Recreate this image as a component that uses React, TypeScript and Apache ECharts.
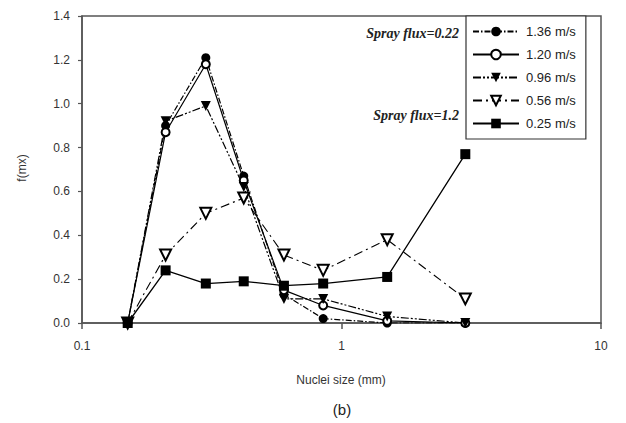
import React, { useEffect, useRef } from "react";
import * as echarts from "echarts";

const sizes = [0.15, 0.21, 0.3, 0.42, 0.6, 0.85, 1.5, 3.0];
const v136 = [0, 0.9, 1.21, 0.67, 0.13, 0.02, 0.0, 0.0];
const v120 = [0, 0.87, 1.18, 0.65, 0.15, 0.08, 0.01, 0.0];
const v096 = [0, 0.92, 0.99, 0.62, 0.11, 0.11, 0.03, 0.0];
const v056 = [0, 0.31, 0.5, 0.57, 0.31, 0.24, 0.38, 0.11];
const v025 = [0, 0.24, 0.18, 0.19, 0.17, 0.18, 0.21, 0.77];
const seriesNames = ["1.36 m/s", "1.20 m/s", "0.96 m/s", "0.56 m/s", "0.25 m/s"];
const yTicks = [0, 0.2, 0.4, 0.6, 0.8, 1.0, 1.2, 1.4];
const xTicks = [0.1, 1, 10];

export default function App() {
  const ref = useRef<HTMLDivElement>(null);
  useEffect(() => {
    if (!ref.current) return;
    const chart = echarts.init(ref.current, null, { renderer: "svg" });
    const pts = (vals: number[]) => sizes.map((s, i) => [s, vals[i]]);
    const common = {
      type: "line",
      showAllSymbol: true,
      z: 3,
    };
    const series = [
      {
        ...common,
        name: seriesNames[0],
        data: pts(v136),
        symbol: "circle",
        symbolSize: 9,
        itemStyle: { color: "#000" },
        lineStyle: { color: "#000", width: 1.2, type: [6, 2, 1.5, 2] },
      },
      {
        ...common,
        name: seriesNames[1],
        data: pts(v120),
        symbol: "emptyCircle",
        symbolSize: 8,
        itemStyle: { color: "#000", borderWidth: 1.2 },
        lineStyle: { color: "#000", width: 1.2 },
      },
      {
        ...common,
        name: seriesNames[2],
        data: pts(v096),
        symbol: "triangle",
        symbolRotate: 180,
        symbolSize: 10,
        itemStyle: { color: "#000" },
        lineStyle: { color: "#000", width: 1.2, type: [8, 2, 2, 2, 2, 2] },
      },
      {
        ...common,
        name: seriesNames[3],
        data: pts(v056),
        symbol: "emptyTriangle",
        symbolRotate: 180,
        symbolSize: 11,
        itemStyle: { color: "#000", borderWidth: 1.2 },
        lineStyle: { color: "#000", width: 1.1, type: [9, 4, 2, 4] },
      },
      {
        ...common,
        name: seriesNames[4],
        data: pts(v025),
        symbol: "rect",
        symbolSize: 10,
        itemStyle: { color: "#000" },
        lineStyle: { color: "#000", width: 1.3 },
      },
    ];
    const axisColor = "#555";
    chart.setOption({
      animation: false,
      backgroundColor: "#fff",
      grid: { left: 82, right: 25, top: 16, bottom: 100, containLabel: false },
      xAxis: {
        type: "log",
        logBase: 10,
        min: xTicks[0],
        max: xTicks[xTicks.length - 1],
        axisLine: { show: true, onZero: false, lineStyle: { color: axisColor, width: 1.5 } },
        axisTick: { show: true, inside: false, length: 6, lineStyle: { color: axisColor, width: 1.5 } },
        minorTick: { show: false },
        splitLine: { show: false },
        axisLabel: {
          margin: 17,
          color: "#333",
          fontFamily: "Liberation Sans, Arial, sans-serif",
          fontSize: 12,
          formatter: (v: number) => String(+v.toPrecision(3)),
        },
      },
      yAxis: {
        type: "value",
        min: 0,
        max: 1.4,
        interval: 0.2,
        axisLine: { show: true, lineStyle: { color: axisColor, width: 1.5 } },
        axisTick: { show: true, inside: false, length: 4, lineStyle: { color: axisColor, width: 1.2 } },
        splitLine: { show: false },
        axisLabel: {
          margin: 12,
          color: "#333",
          fontFamily: "Liberation Sans, Arial, sans-serif",
          fontSize: 12,
          formatter: (v: number) => v.toFixed(1),
        },
      },
      legend: {
        orient: "vertical",
        left: 466,
        top: 16,
        padding: [9, 10, 9, 6],
        itemWidth: 46,
        itemHeight: 12,
        itemGap: 10,
        borderColor: "#333",
        borderWidth: 1.2,
        backgroundColor: "#fff",
        data: seriesNames,
        textStyle: {
          color: "#222",
          fontFamily: "Liberation Sans, Arial, sans-serif",
          fontSize: 13,
          padding: [0, 0, 0, 2],
        },
      },
      series,
      graphic: [
        {
          type: "rect",
          shape: { x: 82, y: 16, width: 519, height: 307 },
          style: { fill: "none", stroke: axisColor, lineWidth: 1.5 },
          silent: true,
          z: 0,
        },
        {
          type: "text",
          x: 459,
          y: 33,
          style: {
            text: "Spray flux=0.22",
            fill: "#222",
            font: "italic bold 14px 'Liberation Serif', 'Times New Roman', serif",
            textAlign: "right",
            textVerticalAlign: "middle",
          },
        },
        {
          type: "text",
          x: 459,
          y: 115,
          style: {
            text: "Spray flux=1.2",
            fill: "#222",
            font: "italic bold 14px 'Liberation Serif', 'Times New Roman', serif",
            textAlign: "right",
            textVerticalAlign: "middle",
          },
        },
        {
          type: "text",
          x: 22,
          y: 168,
          rotation: Math.PI / 2,
          style: {
            text: "f(mx)",
            fill: "#333",
            font: "12px 'Liberation Sans', Arial, sans-serif",
            textAlign: "center",
            textVerticalAlign: "middle",
          },
        },
        {
          type: "text",
          x: 341,
          y: 380,
          style: {
            text: "Nuclei size (mm)",
            fill: "#333",
            font: "12px 'Liberation Sans', Arial, sans-serif",
            textAlign: "center",
            textVerticalAlign: "middle",
          },
        },
        {
          type: "text",
          x: 342,
          y: 409,
          style: {
            text: "(b)",
            fill: "#222",
            font: "15px 'Liberation Sans', Arial, sans-serif",
            textAlign: "center",
            textVerticalAlign: "middle",
          },
        },
      ],
    });
    return () => chart.dispose();
  }, []);
  return (
    <div
      ref={ref}
      style={{ position: "fixed", left: 0, top: 0, width: 626, height: 423 }}
    />
  );
}
